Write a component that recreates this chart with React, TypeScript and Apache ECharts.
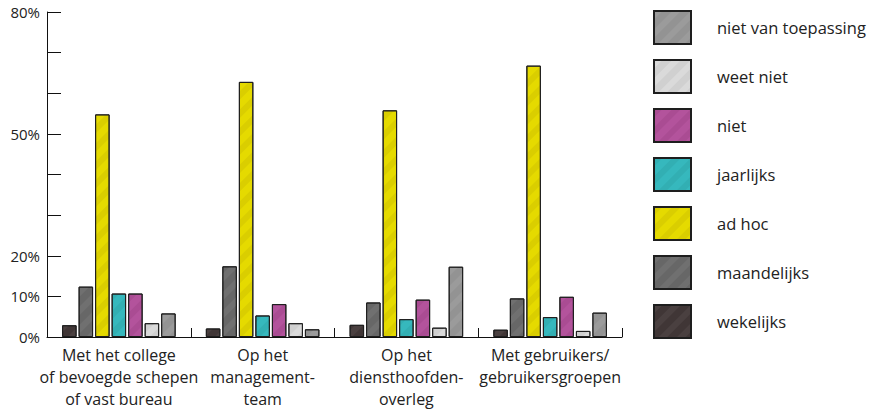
import React, { useEffect, useRef } from "react";
import * as echarts from "echarts";

const categories = [
  "Met het college\nof bevoegde schepen\nof vast bureau",
  "Op het\nmanagement-\nteam",
  "Op het\ndiensthoofden-\noverleg",
  "Met gebruikers/\ngebruikersgroepen",
];

const seriesNames = [
  "wekelijks",
  "maandelijks",
  "ad hoc",
  "jaarlijks",
  "niet",
  "weet niet",
  "niet van toepassing",
];

const wekelijks = [2.9, 2.1, 3.0, 1.8];
const maandelijks = [12.4, 17.4, 8.5, 9.5];
const adHoc = [54.8, 62.8, 55.8, 66.8];
const jaarlijks = [10.7, 5.3, 4.4, 4.9];
const niet = [10.7, 8.1, 9.2, 9.9];
const weetNiet = [3.4, 3.4, 2.3, 1.5];
const nietVanToepassing = [5.8, 1.9, 17.3, 6.0];

const seriesValues = [wekelijks, maandelijks, adHoc, jaarlijks, niet, weetNiet, nietVanToepassing];

const colors = ["#403636", "#676767", "#e5da00", "#36b8bd", "#b3539c", "#d0d0d0", "#939393"];
const stripeColors = [
  "rgba(255,255,255,0.05)",
  "rgba(255,255,255,0.06)",
  "rgba(120,100,0,0.10)",
  "rgba(0,60,60,0.08)",
  "rgba(60,0,40,0.08)",
  "rgba(255,255,255,0.22)",
  "rgba(255,255,255,0.07)",
];

const yTickLabels = [0, 10, 20, 50, 80];

const FONT = "'Open Sans', 'Noto Sans', sans-serif";

export default function App() {
  const ref = useRef<HTMLDivElement>(null);

  useEffect(() => {
    if (!ref.current) return;
    const chart = echarts.init(ref.current, null, { renderer: "svg" });

    const series = seriesNames.map((name, i) => ({
      name,
      type: "bar" as const,
      data: seriesValues[i],
      barCategoryGap: "21%",
      barGap: "14%",
      itemStyle: {
        color: colors[i],
        borderColor: "#1e1e1e",
        borderWidth: 1,
        decal: {
          symbol: "rect",
          symbolSize: 1,
          dashArrayX: [1, 0],
          dashArrayY: [6, 7],
          rotation: -Math.PI / 4,
          color: stripeColors[i],
        },
      },
    }));

    chart.setOption({
      animation: false,
      backgroundColor: "#ffffff",
      textStyle: { fontFamily: FONT },
      grid: { left: 47, right: 259, top: 12, bottom: 73, containLabel: false },
      legend: {
        orient: "vertical",
        left: 648,
        top: 5,
        itemWidth: 37,
        itemHeight: 33,
        itemGap: 14,
        icon: "rect",
        data: [...seriesNames].reverse(),
        textStyle: {
          fontFamily: FONT,
          fontSize: 16.5,
          color: "#222",
          padding: [8, 0, 0, 21],
        },
      },
      xAxis: {
        type: "category",
        data: categories,
        axisLine: { show: true, lineStyle: { color: "#111", width: 1 } },
        axisTick: { show: true, inside: true, length: 9, lineStyle: { color: "#111" } },
        axisLabel: {
          fontFamily: FONT,
          fontSize: 16,
          color: "#222",
          lineHeight: 22,
          margin: 7,
          interval: 0,
        },
      },
      yAxis: {
        type: "value",
        min: 0,
        max: 80,
        interval: 10,
        splitLine: { show: false },
        axisLine: { show: true, lineStyle: { color: "#111", width: 1 } },
        axisTick: { show: true, inside: true, length: 14, lineStyle: { color: "#111" } },
        axisLabel: {
          fontFamily: FONT,
          fontSize: 15,
          color: "#222",
          margin: 7,
          padding: [10, 0, 0, 0],
          formatter: (v: number) => (yTickLabels.includes(v) ? `${v}%` : ""),
        },
      },
      series,
    });

    return () => chart.dispose();
  }, []);

  return (
    <div
      ref={ref}
      style={{ position: "fixed", left: 0, top: 0, width: 881, height: 410 }}
    />
  );
}
